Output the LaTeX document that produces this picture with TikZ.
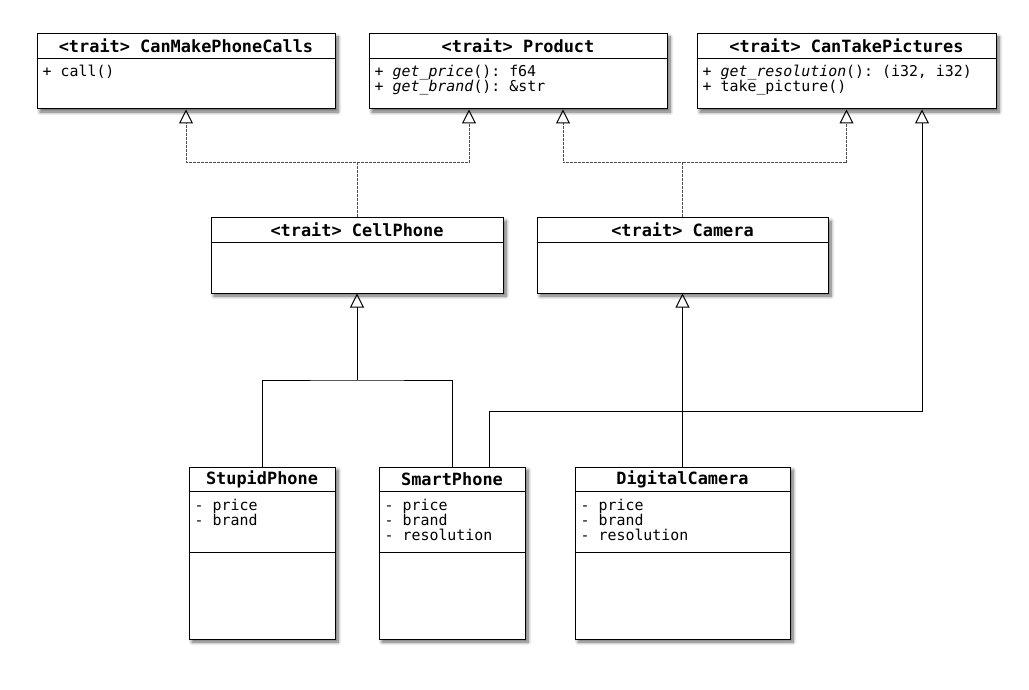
\documentclass[tikz,border=0pt]{standalone}
\usepackage{fontspec}
\setmonofont{DejaVu Sans Mono}
\usetikzlibrary{arrows.meta,shadows.blur}

\tikzset{
  umlbox/.style={draw, line width=1pt, fill=white, rectangle, inner sep=0pt,
    blur shadow={shadow xshift=3pt, shadow yshift=-3pt, shadow blur steps=8,
      shadow blur radius=3.5pt, shadow opacity=60}},
  classname/.style={font=\fontsize{16.9}{17}\selectfont\ttfamily\bfseries, inner sep=0pt},
  members/.style={font=\fontsize{14.9}{15}\selectfont\ttfamily, inner sep=0pt,
    anchor=north west, align=left},
  inherit/.style={line width=1pt,
    -{Triangle[open, width=14pt, length=14pt, line width=1pt, color=black]}},
  realize/.style={inherit, black!70, dash pattern=on 3pt off 1pt},
  plainline/.style={line width=1pt},
}

\begin{document}
\begin{tikzpicture}[x=1pt, y=-1pt]
\useasboundingbox (0,0) rectangle (1029,690);
	% the traits on top
	\node[umlbox, minimum width=298pt, minimum height=75pt] (calls) at (186,71.5) {};
	\node[umlbox, minimum width=298pt, minimum height=75pt] (product) at (518,71.5) {};
	\node[umlbox, minimum width=299pt, minimum height=75pt] (pictures) at (846.5,71.5) {};
	% the traits in the middle
	\node[umlbox, minimum width=292pt, minimum height=75pt] (cellphone) at (357,255.5) {};
	\node[umlbox, minimum width=291pt, minimum height=75pt] (camera) at (682.5,255.5) {};
	% the structs
	\node[umlbox, minimum width=146pt, minimum height=172pt] (stupid) at (262,553) {};
	\node[umlbox, minimum width=146pt, minimum height=172pt] (smart) at (452,553) {};
	\node[umlbox, minimum width=215pt, minimum height=172pt] (digital) at (682.5,553) {};
	% header lines
	\foreach \b in {calls, product, pictures, cellphone, camera, stupid, smart, digital}
		\draw[plainline] ([yshift=-25pt]\b.north west) -- ([yshift=-25pt]\b.north east);
	\foreach \b in {stupid, smart, digital}
		\draw[plainline] ([yshift=-86pt]\b.north west) -- ([yshift=-86pt]\b.north east);
	% names
	\node[classname] (calls-name) at ([yshift=-12.5pt]calls.north) {<trait> CanMakePhoneCalls};
	\node[classname] (product-name) at ([yshift=-12.5pt]product.north) {<trait> Product};
	\node[classname] (pictures-name) at ([yshift=-12.5pt]pictures.north) {<trait> CanTakePictures};
	\node[classname] (cellphone-name) at ([yshift=-12.5pt]cellphone.north) {<trait> CellPhone};
	\node[classname] (camera-name) at ([yshift=-12.5pt]camera.north) {<trait> Camera};
	\node[classname] (stupid-name) at ([yshift=-12.5pt]stupid.north) {StupidPhone};
	\node[classname] (smart-name) at ([yshift=-12.5pt]smart.north) {SmartPhone};
	\node[classname] (digital-name) at ([yshift=-12.5pt]digital.north) {DigitalCamera};
	% members
	\node[members] (calls-ops) at ([xshift=6pt,yshift=-31pt]calls.north west) {+ call()};
	\node[members] (product-ops) at ([xshift=6pt,yshift=-31pt]product.north west)
		{+ \textit{get\_price}(): f64\\+ \textit{get\_brand}(): \&str};
	\node[members] (pictures-ops) at ([xshift=6pt,yshift=-31pt]pictures.north west)
		{+ \textit{get\_resolution}(): (i32, i32)\\+ take\_picture()};
	\node[members] (stupid-attr) at ([xshift=6pt,yshift=-32pt]stupid.north west)
		{- price\\- brand};
	\node[members] (smart-attr) at ([xshift=6pt,yshift=-32pt]smart.north west)
		{- price\\- brand\\- resolution};
	\node[members] (digital-attr) at ([xshift=6pt,yshift=-32pt]digital.north west)
		{- price\\- brand\\- resolution};
	% CellPhone and Camera realise the top traits
	\coordinate (cellphone-up) at (357,163);
	\coordinate (camera-up) at (682.5,163);
	\draw[realize] (cellphone.north) -- (cellphone-up) -| (calls.south);
	\draw[realize] (cellphone-up) -| ([xshift=-49pt]product.south);
	\draw[realize] (camera.north) -- (camera-up) -| ([xshift=45pt]product.south);
	\draw[realize] (camera-up) -| (pictures.south);
	% the structs inherit
	\coordinate (phones-up) at (357,380);
	\draw[plainline] (stupid.north) |- (phones-up) -| (smart.north);
	\draw[inherit] (phones-up) -- (cellphone.south);
	\draw[inherit] ([xshift=37pt]smart.north) -- ++(0,-55) -| ([xshift=75.5pt]pictures.south);
	\draw[inherit] (digital.north) -- (camera.south);
\end{tikzpicture}
\end{document}
